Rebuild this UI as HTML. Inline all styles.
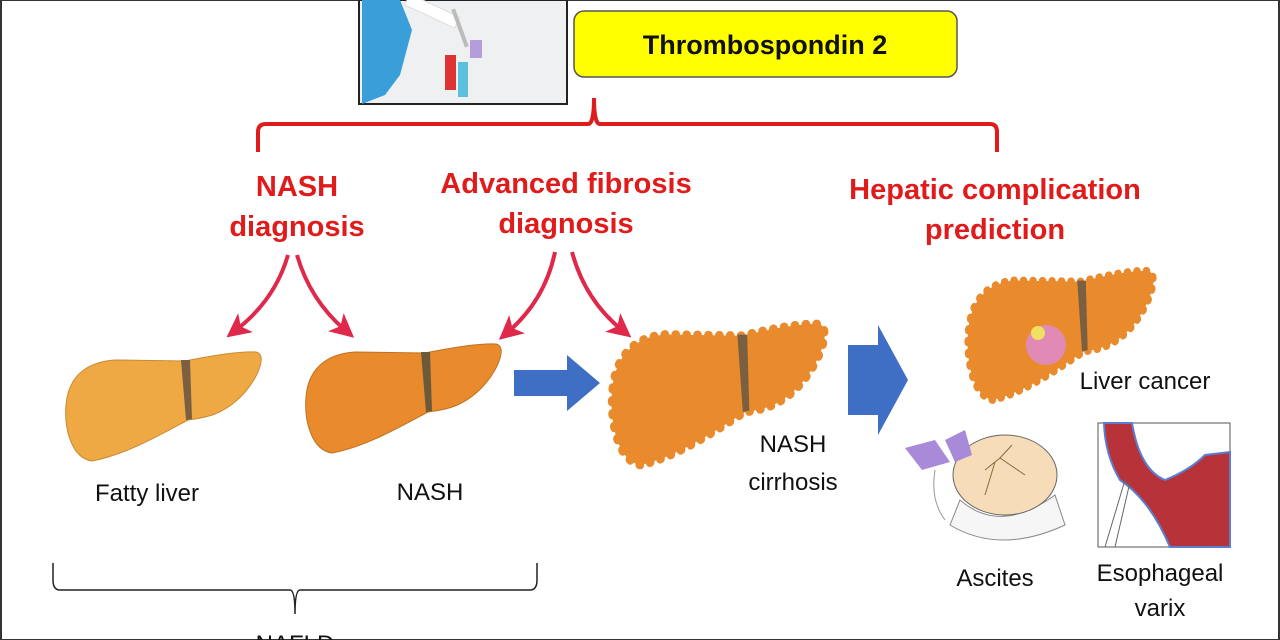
<!DOCTYPE html>
<html><head><meta charset="utf-8"><style>
html,body{margin:0;padding:0;background:#fff}
svg{display:block}
text{font-family:"Liberation Sans",Arial,sans-serif}
</style></head><body>
<svg width="1280" height="640" viewBox="0 0 1280 640" xmlns="http://www.w3.org/2000/svg">
<defs>
<path id="liver" d="M92,461 C72,458 64,430 66,405 C68,378 85,362 115,360 L185,361 C210,356 240,351 256,352 C264,354 262,365 255,378 C245,395 232,407 215,414 C205,418 195,419 188,420 C160,435 125,455 92,461 Z"/>
<path id="mid" d="M181,360 L190,360 L192,419 L186,420 Z"/>
<marker id="rh" markerWidth="6" markerHeight="6" refX="3" refY="3" orient="auto" markerUnits="strokeWidth"><path d="M0,0 L6,3 L0,6 L1.5,3 Z" fill="#E0284A"/></marker>
</defs>
<rect x="1" y="0" width="1278" height="640" fill="none" stroke="#333" stroke-width="2"/>
<!-- photo -->
<rect x="359" y="0" width="208" height="104" fill="#eef0f2" stroke="#222" stroke-width="2"/>
<path d="M362,0 L400,0 L412,30 L400,75 L385,95 L362,104 Z" fill="#3a9fd8"/>
<rect x="405" y="4" width="55" height="12" fill="#fff" stroke="#ddd" transform="rotate(25 430 10)"/>
<rect x="458" y="8" width="4" height="40" fill="#bbb" transform="rotate(-20 460 28)"/>
<rect x="445" y="55" width="11" height="35" fill="#d33"/>
<rect x="458" y="62" width="10" height="35" fill="#5bc0de"/>
<rect x="470" y="40" width="12" height="18" fill="#b39ddb"/>
<!-- yellow box -->
<rect x="574" y="11" width="383" height="66" rx="10" fill="#ffff00" stroke="#555" stroke-width="1.5"/>
<text x="765" y="54" font-size="27" font-weight="bold" text-anchor="middle" fill="#111">Thrombospondin 2</text>
<!-- red brace -->
<path d="M258,152 L258,132 Q258,124 266,124 L588,124 Q594,124 594,98 Q594,124 600,124 L990,124 Q997,124 997,132 L997,152" fill="none" stroke="#E01B1B" stroke-width="4"/>
<g fill="#E01B1B" font-size="29" font-weight="bold" text-anchor="middle">
<text x="297" y="196">NASH</text><text x="297" y="236">diagnosis</text>
<text x="566" y="193">Advanced fibrosis</text><text x="566" y="233">diagnosis</text>
<text x="995" y="199">Hepatic complication</text><text x="995" y="239">prediction</text>
</g>
<!-- curved arrows -->
<g fill="none" stroke="#E0284A" stroke-width="4" marker-end="url(#rh)">
<path d="M288,255 Q275,300 236,330"/>
<path d="M297,255 Q310,300 345,330"/>
<path d="M555,252 Q545,300 508,332"/>
<path d="M572,252 Q585,300 622,330"/>
</g>
<!-- livers -->
<use href="#liver" fill="#EFA944" stroke="#c98a30" stroke-width="1"/>
<use href="#mid" fill="#7a6040"/>
<g transform="translate(240,-8)">
<use href="#liver" fill="#E98A2C" stroke="#c07020" stroke-width="1"/>
<use href="#mid" fill="#6b5a3a"/>
</g>
<g transform="translate(612,323) scale(1.09,1.29) translate(-66,-351)">
<use href="#liver" fill="#E98A2C" stroke="#E98A2C" stroke-width="7" stroke-dasharray="1 9" stroke-linecap="round"/>
<use href="#liver" fill="#E98A2C"/>
<use href="#mid" fill="#7a6040"/>
</g>
<g transform="translate(968,270) scale(0.95,1.18) translate(-66,-351)">
<use href="#liver" fill="#E98A2C" stroke="#E98A2C" stroke-width="7" stroke-dasharray="1 9" stroke-linecap="round"/>
<use href="#liver" fill="#E98A2C"/>
<use href="#mid" fill="#7a6040"/>
</g>
<circle cx="1046" cy="345" r="20" fill="#e08ab5"/>
<circle cx="1038" cy="333" r="7" fill="#f0e060"/>
<!-- blue arrows -->
<path d="M514,370 L567,370 L567,355 L600,383 L567,411 L567,396 L514,396 Z" fill="#3F6FC4"/>
<path d="M848,345 L878,345 L878,325 L908,380 L878,435 L878,415 L848,415 Z" fill="#3F6FC4"/>
<!-- labels -->
<g fill="#111" font-size="24" text-anchor="middle">
<text x="147" y="501">Fatty liver</text>
<text x="430" y="500">NASH</text>
<text x="793" y="452">NASH</text><text x="793" y="490">cirrhosis</text>
<text x="1145" y="389">Liver cancer</text>
<text x="995" y="586">Ascites</text>
<text x="1160" y="581">Esophageal</text><text x="1160" y="616">varix</text>
<text x="295" y="652">NAFLD</text>
</g>
<!-- bottom brace -->
<path d="M53,563 L53,580 Q53,590 60,590 L290,590 Q295,590 295,614 Q295,590 300,590 L530,590 Q537,590 537,580 L537,563" fill="none" stroke="#222" stroke-width="1.5"/>
<!-- ascites -->
<path d="M960,500 Q1000,535 1055,495 L1065,525 Q1000,555 950,525 Z" fill="#f6f6f6" stroke="#888"/>
<ellipse cx="1005" cy="475" rx="52" ry="40" fill="#f6dcb8" stroke="#666" stroke-width="1"/>
<path d="M935,470 Q930,500 945,520" fill="none" stroke="#999"/>
<path d="M905,448 L935,440 L950,462 L922,470 Z" fill="#a98ad8"/>
<path d="M945,440 L965,430 L972,455 L955,462 Z" fill="#a98ad8"/>
<path d="M985,470 L1000,458 L1012,445 M1000,458 L1025,475 M995,462 L985,495" stroke="#8a6a3a" fill="none"/>
<!-- varix -->
<rect x="1098" y="423" width="132" height="124" fill="#fff" stroke="#555" stroke-width="1"/>
<path d="M1104,423 L1132,423 Q1140,470 1165,480 Q1190,470 1205,455 L1230,452 L1230,547 L1170,547 Q1150,500 1120,480 Q1105,455 1104,423 Z" fill="#b8323a" stroke="#5a7ed0" stroke-width="2"/>
<path d="M1125,480 L1105,547 M1130,482 L1115,547" stroke="#666" stroke-width="1"/>
</svg>
</body></html>
